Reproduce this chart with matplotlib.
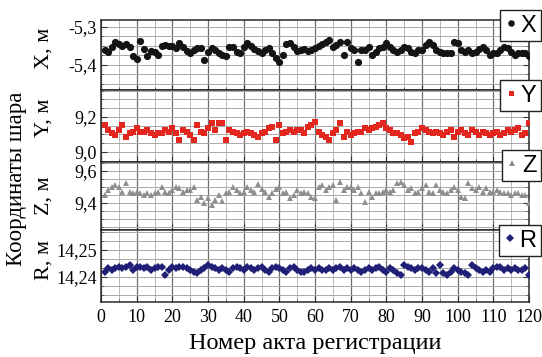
import numpy as np
import matplotlib
matplotlib.use("Agg")
import matplotlib.pyplot as plt
from matplotlib.ticker import MultipleLocator, FixedLocator, FixedFormatter

plt.rcParams['font.family'] = ['Liberation Serif', 'DejaVu Serif']

# ---------------- data ----------------
n_reg = list(range(1, 121))

x_vals = [-5.361, -5.366, -5.352, -5.339, -5.345, -5.350, -5.345, -5.352, -5.376, -5.384,
          -5.337, -5.358, -5.376, -5.363, -5.366, -5.374, -5.350, -5.347, -5.350, -5.350,
          -5.355, -5.342, -5.352, -5.363, -5.368, -5.361, -5.355, -5.355, -5.387, -5.366,
          -5.355, -5.361, -5.368, -5.374, -5.376, -5.352, -5.352, -5.366, -5.368, -5.352,
          -5.342, -5.350, -5.358, -5.363, -5.368, -5.361, -5.355, -5.368, -5.382, -5.392,
          -5.374, -5.345, -5.342, -5.352, -5.363, -5.361, -5.358, -5.363, -5.361, -5.355,
          -5.350, -5.345, -5.339, -5.334, -5.352, -5.347, -5.339, -5.374, -5.339, -5.355,
          -5.361, -5.392, -5.361, -5.361, -5.352, -5.374, -5.366, -5.355, -5.352, -5.342,
          -5.352, -5.361, -5.366, -5.361, -5.352, -5.355, -5.366, -5.368, -5.361, -5.361,
          -5.347, -5.339, -5.347, -5.361, -5.366, -5.368, -5.368, -5.368, -5.339, -5.342,
          -5.361, -5.366, -5.361, -5.368, -5.366, -5.358, -5.352, -5.361, -5.374, -5.368,
          -5.368, -5.361, -5.352, -5.355, -5.366, -5.374, -5.368, -5.368, -5.368, -5.376]

y_vals = [9.154, 9.126, 9.107, 9.097, 9.126, 9.154, 9.087, 9.107, 9.116, 9.135,
          9.116, 9.116, 9.126, 9.107, 9.097, 9.107, 9.107, 9.126, 9.116, 9.135,
          9.107, 9.069, 9.126, 9.116, 9.097, 9.069, 9.154, 9.116, 9.107, 9.135,
          9.164, 9.126, 9.164, 9.164, 9.069, 9.126, 9.116, 9.107, 9.097, 9.107,
          9.116, 9.107, 9.097, 9.087, 9.107, 9.116, 9.135, 9.145, 9.069, 9.154,
          9.107, 9.116, 9.126, 9.116, 9.126, 9.126, 9.107, 9.145, 9.154, 9.173,
          9.116, 9.097, 9.087, 9.069, 9.107, 9.126, 9.164, 9.087, 9.116, 9.097,
          9.107, 9.116, 9.116, 9.135, 9.126, 9.135, 9.145, 9.154, 9.164, 9.135,
          9.126, 9.107, 9.107, 9.097, 9.078, 9.087, 9.059, 9.107, 9.116, 9.135,
          9.126, 9.116, 9.107, 9.116, 9.107, 9.097, 9.116, 9.126, 9.087, 9.116,
          9.126, 9.107, 9.097, 9.126, 9.116, 9.097, 9.116, 9.107, 9.097, 9.107,
          9.116, 9.097, 9.107, 9.126, 9.116, 9.126, 9.135, 9.097, 9.107, 9.164]

z_vals = [9.450, 9.481, 9.502, 9.513, 9.502, 9.471, 9.523, 9.471, 9.460, 9.471,
          9.460, 9.450, 9.460, 9.450, 9.460, 9.471, 9.502, 9.471, 9.460, 9.481,
          9.502, 9.492, 9.471, 9.481, 9.481, 9.502, 9.419, 9.440, 9.400, 9.430,
          9.390, 9.420, 9.450, 9.410, 9.460, 9.470, 9.500, 9.480, 9.460, 9.470,
          9.500, 9.480, 9.470, 9.520, 9.490, 9.470, 9.440, 9.460, 9.490, 9.500,
          9.460, 9.470, 9.430, 9.450, 9.480, 9.460, 9.471, 9.460, 9.440, 9.430,
          9.502, 9.513, 9.481, 9.502, 9.513, 9.419, 9.533, 9.481, 9.502, 9.502,
          9.481, 9.502, 9.460, 9.408, 9.471, 9.440, 9.460, 9.460, 9.471, 9.481,
          9.471, 9.481, 9.523, 9.533, 9.513, 9.481, 9.492, 9.460, 9.471, 9.492,
          9.513, 9.471, 9.460, 9.513, 9.481, 9.471, 9.460, 9.481, 9.502, 9.481,
          9.440, 9.430, 9.523, 9.492, 9.481, 9.502, 9.471, 9.492, 9.471, 9.471,
          9.481, 9.471, 9.460, 9.460, 9.450, 9.460, 9.460, 9.450, 9.450, 9.398]

r_vals = [14.2420, 14.2432, 14.2426, 14.2432, 14.2438, 14.2432, 14.2438, 14.2444, 14.2426, 14.2438,
          14.2438, 14.2432, 14.2438, 14.2426, 14.2432, 14.2438, 14.2438, 14.2407, 14.2426, 14.2438,
          14.2432, 14.2438, 14.2438, 14.2432, 14.2426, 14.2420, 14.2414, 14.2426, 14.2432, 14.2444,
          14.2438, 14.2432, 14.2426, 14.2432, 14.2426, 14.2420, 14.2432, 14.2438, 14.2432, 14.2426,
          14.2438, 14.2432, 14.2426, 14.2432, 14.2438, 14.2426, 14.2420, 14.2432, 14.2438, 14.2432,
          14.2426, 14.2420, 14.2432, 14.2438, 14.2426, 14.2420, 14.2420, 14.2426, 14.2432, 14.2426,
          14.2432, 14.2426, 14.2426, 14.2432, 14.2426, 14.2432, 14.2438, 14.2426, 14.2432, 14.2426,
          14.2432, 14.2426, 14.2420, 14.2426, 14.2432, 14.2426, 14.2432, 14.2438, 14.2426, 14.2420,
          14.2432, 14.2426, 14.2414, 14.2407, 14.2444, 14.2438, 14.2432, 14.2426, 14.2432, 14.2432,
          14.2426, 14.2420, 14.2432, 14.2414, 14.2444, 14.2414, 14.2407, 14.2420, 14.2432, 14.2426,
          14.2420, 14.2414, 14.2407, 14.2444, 14.2432, 14.2426, 14.2420, 14.2426, 14.2420, 14.2432,
          14.2438, 14.2438, 14.2426, 14.2432, 14.2426, 14.2432, 14.2426, 14.2426, 14.2432, 14.2407]

series_names = ["X", "Y", "Z", "R"]
axis_labels = ["X, м", "Y, м", "Z, м", "R, м"]
x_ticks = [0, 10, 20, 30, 40, 50, 60, 70, 80, 90, 100, 110, 120]

x_yticks = [-5.4, -5.3]
x_yticklabels = ["-5,4", "-5,3"]
y_yticks = [9.0, 9.2]
y_yticklabels = ["9,0", "9,2"]
z_yticks = [9.4, 9.6]
z_yticklabels = ["9,4", "9,6"]
r_yticks = [14.24, 14.25]
r_yticklabels = ["14,24", "14,25"]

# ---------------- styling ----------------
W, H = 542, 357
fig = plt.figure(figsize=(W / 100, H / 100), dpi=100)

left_px, right_px = 101, 529
panel_px = [(20, 90), (90, 162), (162, 230), (230, 302)]
ylims = [(-5.466, -5.282), (8.943, 9.354), (9.231, 9.656), (14.2307, 14.2574)]
ticks = [(x_yticks, x_yticklabels), (y_yticks, y_yticklabels),
         (z_yticks, z_yticklabels), (r_yticks, r_yticklabels)]
minor_div = [4, 4, 4, 3]
data = [x_vals, y_vals, z_vals, r_vals]
colors = ["#141414", "#e3261e", "#8e8e8e", "#1f1f78"]
markers = ["o", "s", "^", "D"]
msizes = [5.2, 4.0, 5.0, 4.4]
label_y = [0.60, 0.62, 0.50, 0.58]
legend_top_px = [10, 80, 150, 225]

for i in range(4):
    top, bot = panel_px[i]
    ax = fig.add_axes([left_px / W, 1 - bot / H, (right_px - left_px) / W, (bot - top) / H])
    ax.plot(n_reg, data[i], linestyle="none", marker=markers[i], ms=msizes[i],
            color=colors[i], markeredgewidth=0, label=series_names[i], zorder=3)
    ax.set_xlim(0, 120)
    ax.set_ylim(*ylims[i])
    ax.xaxis.set_major_locator(MultipleLocator(10))
    ax.xaxis.set_minor_locator(MultipleLocator(5))
    ax.yaxis.set_major_locator(FixedLocator(ticks[i][0]))
    ax.yaxis.set_major_formatter(FixedFormatter(ticks[i][1]))
    step = ticks[i][0][1] - ticks[i][0][0]
    ax.yaxis.set_minor_locator(MultipleLocator(step / minor_div[i]))
    ax.grid(which="major", axis="x", color="#6e6e6e", lw=0.9, zorder=0)
    ax.grid(which="minor", axis="x", color="#b8b8b8", lw=0.7, zorder=0)
    ax.grid(which="both", axis="y", color="#a8a8a8", lw=0.7, zorder=0)
    ax.tick_params(axis="both", which="major", direction="in", length=4, width=0.8,
                   labelsize=13, color="#333333", right=True)
    ax.tick_params(axis="both", which="minor", direction="in", length=2, width=0.6,
                   color="#555555", right=True)
    ax.tick_params(axis="y", pad=3)
    for sp in ax.spines.values():
        sp.set_color("#2a2a2a")
        sp.set_linewidth(1.1)
    ax.set_ylabel(axis_labels[i], fontsize=16)
    ax.yaxis.set_label_coords(-0.112, label_y[i])
    if i < 3:
        ax.tick_params(axis="x", labelbottom=False)
    else:
        ax.set_xticks(x_ticks)
        ax.tick_params(axis="x", labelsize=13, pad=5)
    h = bot - top
    leg = ax.legend(loc="upper right",
                    bbox_to_anchor=((541 - left_px) / (right_px - left_px), 1 + (top - legend_top_px[i]) / h),
                    borderaxespad=0, frameon=True, fancybox=False, framealpha=1,
                    edgecolor="#222222", handlelength=0.5, handletextpad=0.15,
                    borderpad=0.2, markerscale=0.9,
                    prop={"family": "Liberation Sans", "size": 17})
    leg.get_frame().set_linewidth(1.0)
    leg.set_zorder(10)

fig.text(0.030, 0.5, "Координаты шара", rotation=90, ha="center", va="center", fontsize=16.5)
fig.text(315 / W, 1 - 343 / H, "Номер акта регистрации", ha="center", va="center", fontsize=17.5)

fig.savefig("out.png", dpi=100)
